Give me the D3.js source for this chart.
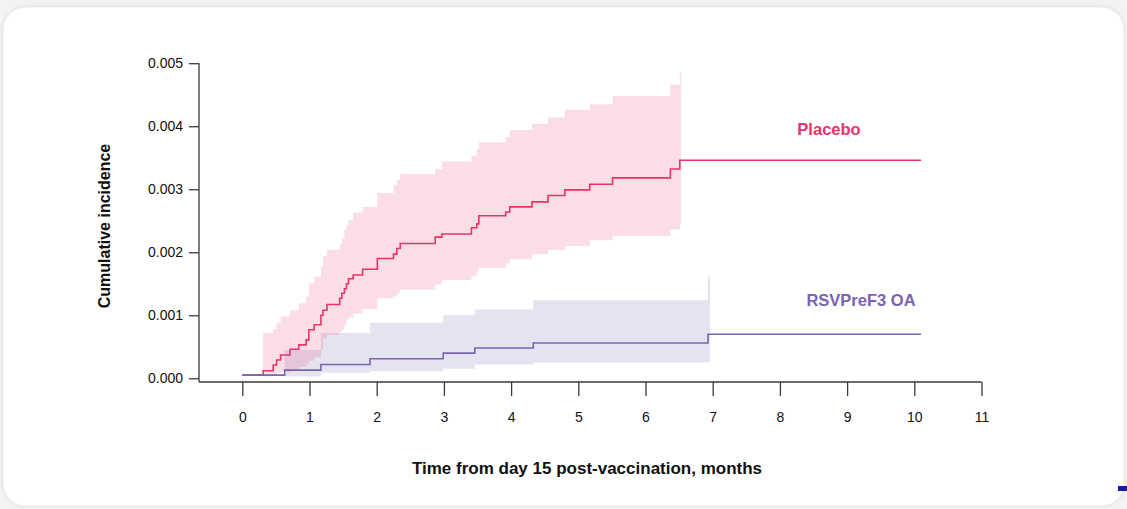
<!DOCTYPE html>
<html>
<head>
<meta charset="utf-8">
<script src="https://cdn.jsdelivr.net/npm/d3@7/dist/d3.min.js"></script>
<style>
  html, body { margin: 0; padding: 0; background: #f3f3f4; }
  svg { display: block; font-family: "Liberation Sans", Arial, sans-serif; }
</style>
</head>
<body>
<svg id="chart" width="1127" height="509"></svg>
<script>
// Cumulative incidence step curves (months from day 15 post-vaccination)
const placeboTime  = [0, 0.31, 0.46, 0.51, 0.57, 0.71, 0.84, 0.95, 0.99, 1.07, 1.17, 1.20, 1.26, 1.45, 1.48, 1.52, 1.55, 1.58, 1.65, 1.79, 2.01, 2.25, 2.30, 2.35, 2.87, 2.97, 3.41, 3.49, 3.52, 3.92, 3.98, 4.31, 4.55, 4.80, 5.17, 5.51, 6.37, 6.51];
const placeboValue = [0.00005, 0.00012, 0.00021, 0.00029, 0.00037, 0.00046, 0.00053, 0.00061, 0.00077, 0.00085, 0.00100, 0.00108, 0.00117, 0.00127, 0.00135, 0.00142, 0.00150, 0.00158, 0.00164, 0.00173, 0.00190, 0.00197, 0.00206, 0.00214, 0.00224, 0.00229, 0.00239, 0.00245, 0.00258, 0.00264, 0.00272, 0.00280, 0.00290, 0.00299, 0.00308, 0.00318, 0.00332, 0.00346];
// 95% confidence band, one entry per event time from 0.31 onward
const placeboUpper = [0.00072, 0.00078, 0.00088, 0.00098, 0.00108, 0.00119, 0.00130, 0.00151, 0.00161, 0.00178, 0.00194, 0.00204, 0.00213, 0.00222, 0.00235, 0.00243, 0.00251, 0.00263, 0.00272, 0.00294, 0.00307, 0.00315, 0.00324, 0.00332, 0.00344, 0.00353, 0.00364, 0.00374, 0.00383, 0.00394, 0.00404, 0.00414, 0.00426, 0.00435, 0.00448, 0.00466, 0.00486];
const placeboLower = [0.00003, 0.00005, 0.00008, 0.00010, 0.00014, 0.00018, 0.00022, 0.00028, 0.00033, 0.00045, 0.00063, 0.00069, 0.00073, 0.00077, 0.00084, 0.00092, 0.00097, 0.00103, 0.00110, 0.00127, 0.00130, 0.00135, 0.00141, 0.00149, 0.00156, 0.00162, 0.00170, 0.00175, 0.00182, 0.00189, 0.00197, 0.00204, 0.00210, 0.00219, 0.00226, 0.00236, 0.00246];
const placeboBandEnd = 6.53;

const rsvTime  = [0, 0.63, 1.17, 1.90, 2.99, 3.46, 4.33, 6.93];
const rsvValue = [0.00005, 0.00013, 0.00022, 0.00031, 0.00040, 0.00048, 0.00056, 0.00070];
const rsvUpper = [0.00045, 0.00072, 0.00088, 0.00100, 0.00109, 0.00124, 0.00161];
const rsvLower = [0.00003, 0.00009, 0.00011, 0.00015, 0.00022, 0.00025, 0.00026];
const rsvBandEnd = 6.96;

const followUpEnd = 10.10;

const xTicks = [0, 1, 2, 3, 4, 5, 6, 7, 8, 9, 10, 11];
const yTicks = [0, 0.001, 0.002, 0.003, 0.004, 0.005];

const seriesNames = ["Placebo", "RSVPreF3 OA"];
const seriesColors = ["#e8336d", "#7a64b2"];
const bandColors = ["#e8336d", "#e6e3f0"];

const svg = d3.select("#chart");

// card background
const defs = svg.append("defs");
const f = defs.append("filter").attr("id", "shadow").attr("x", "-5%").attr("y", "-5%").attr("width", "110%").attr("height", "110%");
f.append("feGaussianBlur").attr("in", "SourceAlpha").attr("stdDeviation", 2.5);
f.append("feOffset").attr("dx", 0).attr("dy", 0).attr("result", "b");
f.append("feComponentTransfer").append("feFuncA").attr("type", "linear").attr("slope", 0.12);
const m = f.append("feMerge");
m.append("feMergeNode");
m.append("feMergeNode").attr("in", "SourceGraphic");

svg.append("rect")
  .attr("x", 3.5).attr("y", 7.5).attr("width", 1120).attr("height", 498)
  .attr("rx", 22).attr("fill", "#ffffff").attr("filter", "url(#shadow)");

const x = d3.scaleLinear().domain([0, 11]).range([242.3, 981.5]);
const y = d3.scaleLinear().domain([0, 0.005]).range([378.3, 63.2]);

const axisY = 382;   // baseline of the horizontal axis
const axisX = 199;   // position of the vertical axis
const ink = "#3a3a3a";

// step helpers
function bandPoints(times, lower, upper, end) {
  const t = times.slice(1);
  const pts = t.map((tt, i) => ({ t: tt, lo: lower[i], hi: upper[i] }));
  pts.push({ t: end, lo: lower[lower.length - 1], hi: upper[upper.length - 1] });
  return pts;
}
function linePoints(times, values, end) {
  const pts = times.map((tt, i) => ({ t: tt, v: values[i] }));
  pts.push({ t: end, v: values[values.length - 1] });
  return pts;
}

const area = d3.area().curve(d3.curveStepAfter)
  .x(d => x(d.t)).y0(d => y(d.lo)).y1(d => y(d.hi));
const line = d3.line().curve(d3.curveStepAfter)
  .x(d => x(d.t)).y(d => y(d.v));

// confidence bands
svg.append("path")
  .datum(bandPoints(rsvTime, rsvLower, rsvUpper, rsvBandEnd))
  .attr("d", area).attr("fill", bandColors[1]);
svg.append("path")
  .datum(bandPoints(placeboTime, placeboLower, placeboUpper, placeboBandEnd))
  .attr("d", area).attr("fill", bandColors[0]).attr("fill-opacity", 0.17);

// curves
svg.append("path")
  .datum(linePoints(placeboTime, placeboValue, followUpEnd))
  .attr("d", line).attr("fill", "none").attr("stroke", seriesColors[0]).attr("stroke-width", 1.6);
svg.append("path")
  .datum(linePoints(rsvTime, rsvValue, followUpEnd))
  .attr("d", line).attr("fill", "none").attr("stroke", seriesColors[1]).attr("stroke-width", 1.6);

// vertical axis
const gy = svg.append("g").attr("transform", `translate(${axisX},0)`)
  .call(d3.axisLeft(y).tickValues(yTicks).tickFormat(d3.format(".3f")).tickSize(10).tickPadding(6));
gy.select(".domain").remove();
gy.append("line").attr("x1", 0).attr("x2", 0).attr("y1", y(0.005)).attr("y2", axisY)
  .attr("stroke", ink).attr("stroke-width", 1.3);
gy.selectAll(".tick line").attr("stroke", ink).attr("stroke-width", 1.3);
gy.selectAll(".tick text").attr("fill", "#111").attr("font-size", 14)
  .attr("font-family", "Liberation Sans, Arial, sans-serif");

// horizontal axis
const gx = svg.append("g").attr("transform", `translate(0,${axisY})`)
  .call(d3.axisBottom(x).tickValues(xTicks).tickFormat(d3.format("d")).tickSize(14).tickPadding(16));
gx.select(".domain").remove();
gx.append("line").attr("x1", axisX).attr("x2", x(11)).attr("y1", 0).attr("y2", 0)
  .attr("stroke", ink).attr("stroke-width", 1.3);
gx.selectAll(".tick line").attr("stroke", ink).attr("stroke-width", 1.3);
gx.selectAll(".tick text").attr("fill", "#111").attr("font-size", 14)
  .attr("font-family", "Liberation Sans, Arial, sans-serif");

// axis titles
svg.append("text")
  .attr("transform", "translate(110,226) rotate(-90)")
  .attr("text-anchor", "middle").attr("font-weight", "bold").attr("font-size", 16)
  .attr("fill", "#111").text("Cumulative incidence");
svg.append("text")
  .attr("x", 587).attr("y", 474)
  .attr("text-anchor", "middle").attr("font-weight", "bold").attr("font-size", 17)
  .attr("fill", "#111").text("Time from day 15 post-vaccination, months");

// series labels
svg.append("text").attr("x", 829).attr("y", 135)
  .attr("text-anchor", "middle").attr("font-weight", "bold").attr("font-size", 16.5)
  .attr("fill", seriesColors[0]).text(seriesNames[0]);
svg.append("text").attr("x", 861).attr("y", 306)
  .attr("text-anchor", "middle").attr("font-weight", "bold").attr("font-size", 16.5)
  .attr("fill", seriesColors[1]).text(seriesNames[1]);

// small marker at the lower right edge
svg.append("rect").attr("x", 1118).attr("y", 486).attr("width", 9).attr("height", 5).attr("fill", "#1a1aa8");
</script>
</body>
</html>
